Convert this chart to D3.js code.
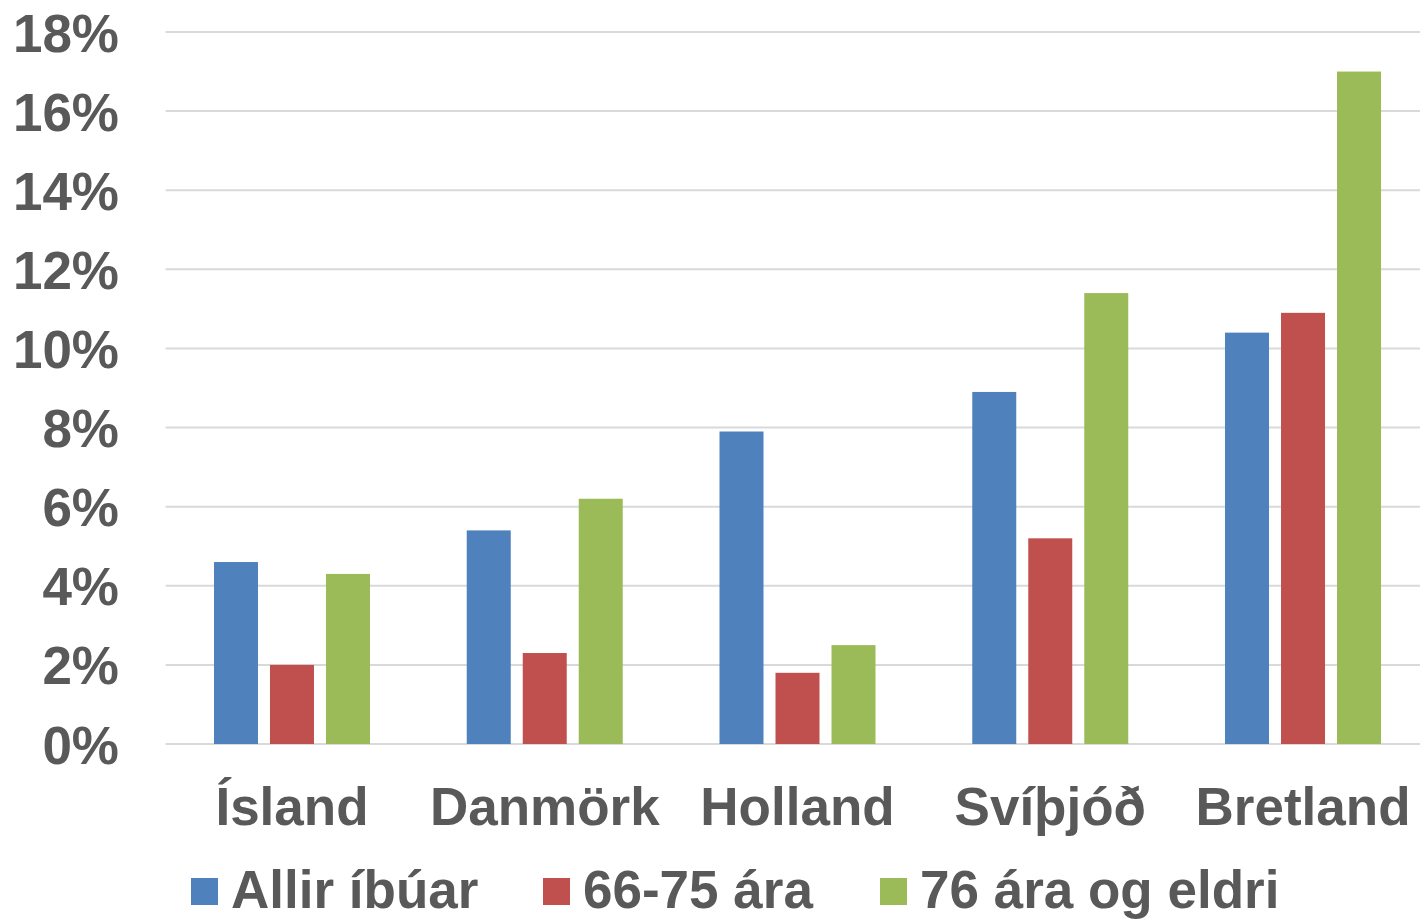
<!DOCTYPE html>
<html>
<head>
<meta charset="utf-8">
<script src="https://cdn.jsdelivr.net/npm/d3@7"></script>
<style>
  html, body { margin: 0; padding: 0; background: #fff; }
  svg { display: block; }
  text { font-family: Arial, "Liberation Sans", sans-serif; font-weight: bold; fill: #595959; }
</style>
</head>
<body>
<svg id="chart" width="1420" height="919"></svg>
<script>
const categories = ["Ísland", "Danmörk", "Holland", "Svíþjóð", "Bretland"];
const seriesNames = ["Allir íbúar", "66-75 ára", "76 ára og eldri"];
const seriesColors = ["#4F81BD", "#C0504D", "#9BBB59"];
const allir = [4.6, 5.4, 7.9, 8.9, 10.4];
const ara6675 = [2.0, 2.3, 1.8, 5.2, 10.9];
const ara76 = [4.3, 6.2, 2.5, 11.4, 17.0];
const yTicks = [0, 2, 4, 6, 8, 10, 12, 14, 16, 18];

const seriesValues = [allir, ara6675, ara76];

const svg = d3.select("#chart");
const plotLeft = 165.6, plotRight = 1429.4, plotTop = 32, plotBottom = 744;
const fs = 53;

const y = d3.scaleLinear().domain([0, 18]).range([plotBottom, plotTop]);
const x0 = d3.scaleBand().domain(categories).range([plotLeft, plotRight]).paddingInner(0).paddingOuter(0);
const groupW = 156;
const x1 = d3.scaleBand().domain(seriesNames).range([0, groupW]).paddingInner(12 / 56).paddingOuter(0);

// gridlines
svg.append("g").selectAll("line").data(yTicks).join("line")
  .attr("x1", plotLeft).attr("x2", 1420)
  .attr("y1", d => y(d)).attr("y2", d => y(d))
  .attr("stroke", "#D9D9D9").attr("stroke-width", 2);

// y axis labels
const yAxis = d3.axisLeft(y).tickValues(yTicks).tickFormat(d => d + "%").tickSize(0).tickPadding(0);
const yg = svg.append("g").attr("transform", "translate(119,0)").call(yAxis);
yg.select(".domain").remove();
yg.selectAll("text").attr("font-size", fs).attr("fill", "#595959")
  .attr("font-family", "Arial, 'Liberation Sans', sans-serif").attr("font-weight", "bold")
  .attr("dy", "0.36em");

// bars
const groups = svg.append("g").selectAll("g").data(categories).join("g")
  .attr("transform", c => `translate(${x0(c) + (x0.bandwidth() - groupW) / 2},0)`);
groups.selectAll("rect").data((c, i) => seriesNames.map((s, j) => ({ s, j, v: seriesValues[j][i] })))
  .join("rect")
  .attr("x", d => x1(d.s))
  .attr("width", x1.bandwidth())
  .attr("y", d => y(d.v))
  .attr("height", d => y(0) - y(d.v))
  .attr("fill", d => seriesColors[d.j]);

// x axis labels
const xAxis = d3.axisBottom(x0).tickSize(0).tickPadding(0);
const xg = svg.append("g").attr("transform", `translate(0,${plotBottom})`).call(xAxis);
xg.select(".domain").remove();
xg.selectAll("text").attr("font-size", fs).attr("fill", "#595959")
  .attr("font-family", "Arial, 'Liberation Sans', sans-serif").attr("font-weight", "bold")
  .attr("dy", null).attr("y", 81);

// legend
const legendX = [191, 543, 880];
const lg = svg.append("g").selectAll("g").data(seriesNames).join("g")
  .attr("transform", (d, i) => `translate(${legendX[i]},878)`);
lg.append("rect").attr("width", 27).attr("height", 27).attr("fill", (d, i) => seriesColors[i]);
lg.append("text").attr("x", 40).attr("y", 30).attr("font-size", fs).text(d => d);
</script>
</body>
</html>
